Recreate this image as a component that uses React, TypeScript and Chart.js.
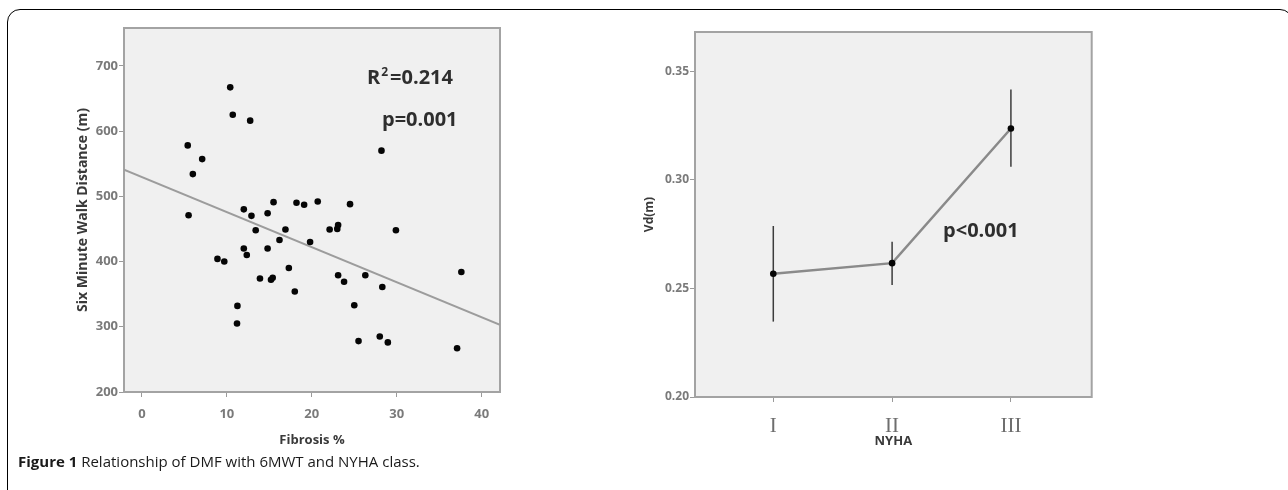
import React, { useEffect, useRef } from "react";
import { Chart, registerables } from "chart.js";

Chart.register(...registerables);

// ---------- Left panel: Fibrosis % vs Six Minute Walk Distance ----------
const fibrosisPct = [
  10.4, 10.7, 12.75, 5.4, 7.1, 6.0, 5.5, 28.2, 12.0, 12.9, 13.4, 14.8, 15.5, 16.9,
  16.2, 18.2, 19.1, 20.7, 19.8, 14.8, 12.0, 12.35, 8.9, 9.7, 13.9, 15.2, 15.4, 17.3,
  18.0, 11.25, 11.2, 22.1, 23.0, 23.1, 24.5, 23.1, 23.8, 26.3, 28.3, 29.9, 25.0, 25.5,
  28.0, 28.95, 37.1, 37.6,
];
const walkDistance = [
  667, 625, 616, 578, 557, 534, 471, 570, 480, 470, 448, 474, 491, 449,
  433, 490, 487, 492, 430, 420, 420, 410, 404, 400, 374, 372, 375, 390,
  354, 332, 305, 449, 450, 456, 488, 379, 369, 379, 361, 448, 333, 278,
  285, 276, 267, 384,
];
const fitLineX = [-2.1, 42.15];
const fitLineY = [541, 303];
const fibrosisTicks = [0, 10, 20, 30, 40];
const walkTicks = [200, 300, 400, 500, 600, 700];

// ---------- Right panel: NYHA class vs Vd(m) ----------
const nyhaClass = [1, 2, 3];
const nyhaLabels = ["I", "II", "III"];
const vdMean = [0.2567, 0.2616, 0.3236];
const vdLow = [0.2347, 0.2516, 0.306];
const vdHigh = [0.2787, 0.2715, 0.3415];
const vdTicks = [0.2, 0.25, 0.3, 0.35];

const SANS = '"Open Sans", "DejaVu Sans", sans-serif';
const TICK_COLOR = "#7a7a7a";
const TITLE_COLOR = "#3a3a3a";

const plotBox = {
  id: "plotBox",
  beforeDatasetsDraw(chart: any) {
    const { ctx, chartArea: a } = chart;
    ctx.save();
    ctx.fillStyle = "#f0f0f0";
    ctx.fillRect(a.left, a.top, a.right - a.left, a.bottom - a.top);
    ctx.strokeStyle = "#a3a3a3";
    ctx.lineWidth = 2;
    ctx.strokeRect(a.left, a.top, a.right - a.left, a.bottom - a.top);
    ctx.restore();
  },
};

function makeTextPlugin(items: { x: number; y: number; parts: { t: string; sup?: boolean }[] }[]) {
  return {
    id: "notes",
    afterDatasetsDraw(chart: any) {
      const { ctx, scales } = chart;
      ctx.save();
      ctx.fillStyle = "#2e2e2e";
      ctx.textBaseline = "middle";
      ctx.textAlign = "left";
      for (const it of items) {
        let px = scales.x.getPixelForValue(it.x);
        const py = scales.y.getPixelForValue(it.y);
        for (const p of it.parts) {
          if (p.sup) {
            ctx.font = `bold 12px ${SANS}`;
            ctx.fillText(p.t, px + 1, py - 6);
            px += ctx.measureText(p.t).width + 3;
          } else {
            ctx.font = `bold 20px ${SANS}`;
            ctx.fillText(p.t, px, py);
            px += ctx.measureText(p.t).width;
          }
        }
      }
      ctx.restore();
    },
  };
}

const errorBars = {
  id: "errorBars",
  beforeDatasetsDraw(chart: any) {
    const { ctx, scales } = chart;
    ctx.save();
    ctx.strokeStyle = "#3c3c3c";
    ctx.lineWidth = 1.5;
    nyhaClass.forEach((c, i) => {
      const x = scales.x.getPixelForValue(c);
      ctx.beginPath();
      ctx.moveTo(x, scales.y.getPixelForValue(vdLow[i]));
      ctx.lineTo(x, scales.y.getPixelForValue(vdHigh[i]));
      ctx.stroke();
    });
    ctx.restore();
  },
};

function LeftChart() {
  const ref = useRef<HTMLCanvasElement | null>(null);
  useEffect(() => {
    const chart = new Chart(ref.current as HTMLCanvasElement, {
      type: "scatter",
      data: {
        datasets: [
          {
            data: fitLineX.map((x, i) => ({ x, y: fitLineY[i] })),
            showLine: true,
            borderColor: "#9c9c9c",
            borderWidth: 2,
            pointRadius: 0,
            order: 2,
          } as any,
          {
            data: fibrosisPct.map((x, i) => ({ x, y: walkDistance[i] })),
            backgroundColor: "#050505",
            borderColor: "#050505",
            borderWidth: 0,
            pointRadius: 3.3,
            order: 1,
          },
        ],
      },
      options: {
        animation: false,
        responsive: false,
        events: [],
        layout: { padding: { left: 0, top: 28, right: 20, bottom: 0 } },
        plugins: { legend: { display: false }, tooltip: { enabled: false } },
        scales: {
          x: {
            type: "linear",
            min: -2.1,
            max: 42.15,
            afterBuildTicks: (s: any) => {
              s.ticks = fibrosisTicks.map((v) => ({ value: v }));
            },
            afterFit: (s: any) => {
              s.height = 68;
            },
            grid: { drawOnChartArea: false, drawTicks: true, tickLength: 5, color: "#9a9a9a" },
            border: { display: false },
            ticks: {
              padding: 9,
              maxRotation: 0,
              autoSkip: false,
              color: TICK_COLOR,
              font: { family: SANS, size: 13, weight: "bold" },
            },
            title: {
              display: true,
              text: "Fibrosis %",
              color: TITLE_COLOR,
              font: { family: SANS, size: 13, weight: "bold" },
              padding: { top: 0, bottom: 12.2 },
            },
          },
          y: {
            type: "linear",
            min: 200,
            max: 758,
            afterBuildTicks: (s: any) => {
              s.ticks = walkTicks.map((v) => ({ value: v }));
            },
            afterFit: (s: any) => {
              s.width = 124;
            },
            grid: { drawOnChartArea: false, drawTicks: true, tickLength: 5, color: "#9a9a9a" },
            border: { display: false },
            ticks: {
              padding: 1,
              color: TICK_COLOR,
              font: { family: SANS, size: 13, weight: "bold" },
            },
            title: {
              display: true,
              text: "Six Minute Walk Distance (m)",
              color: TITLE_COLOR,
              font: { family: SANS, size: 14, weight: "bold" },
              padding: { top: 74.6, bottom: 0 },
            },
          },
        },
      } as any,
      plugins: [
        plotBox,
        makeTextPlugin([
          { x: 26.5, y: 681, parts: [{ t: "R" }, { t: "2", sup: true }, { t: "=0.214" }] },
          { x: 28.26, y: 617, parts: [{ t: "p=0.001" }] },
        ]),
      ],
    });
    return () => chart.destroy();
  }, []);
  return (
    <canvas
      ref={ref}
      width={520}
      height={460}
      style={{ position: "absolute", left: 0, top: 0, width: 520, height: 460 }}
    />
  );
}

function RightChart() {
  const ref = useRef<HTMLCanvasElement | null>(null);
  useEffect(() => {
    const chart = new Chart(ref.current as HTMLCanvasElement, {
      type: "scatter",
      data: {
        datasets: [
          {
            data: nyhaClass.map((x, i) => ({ x, y: vdMean[i] })),
            showLine: true,
            borderColor: "#8a8a8a",
            borderWidth: 2.5,
            backgroundColor: "#050505",
            pointBorderColor: "#050505",
            pointBorderWidth: 0,
            pointRadius: 3.3,
          } as any,
        ],
      },
      options: {
        animation: false,
        responsive: false,
        events: [],
        layout: { padding: { left: 0, top: 32, right: 196.3, bottom: 0 } },
        plugins: { legend: { display: false }, tooltip: { enabled: false } },
        scales: {
          x: {
            type: "linear",
            min: 0.341,
            max: 3.68,
            afterBuildTicks: (s: any) => {
              s.ticks = nyhaClass.map((v) => ({ value: v }));
            },
            afterFit: (s: any) => {
              s.height = 63;
            },
            grid: { drawOnChartArea: false, drawTicks: true, tickLength: 5, color: "#9a9a9a" },
            border: { display: false },
            ticks: {
              padding: 12,
              maxRotation: 0,
              autoSkip: false,
              color: "#6e6e6e",
              font: { family: '"Liberation Serif", "DejaVu Serif", serif', size: 21 },
              callback: (v: any) => nyhaLabels[nyhaClass.indexOf(Number(v))] ?? "",
            },
            title: {
              display: true,
              text: "NYHA",
              color: TITLE_COLOR,
              font: { family: SANS, size: 13, weight: "bold" },
              padding: { top: 0, bottom: 11 },
            },
          },
          y: {
            type: "linear",
            min: 0.2,
            max: 0.368,
            afterBuildTicks: (s: any) => {
              s.ticks = vdTicks.map((v) => ({ value: v }));
            },
            afterFit: (s: any) => {
              s.width = 55;
            },
            grid: { drawOnChartArea: false, drawTicks: true, tickLength: 5, color: "#9a9a9a" },
            border: { display: false },
            ticks: {
              padding: 1,
              color: TICK_COLOR,
              font: { family: SANS, size: 12, weight: "bold" },
              callback: (v: any) => Number(v).toFixed(2),
            },
            title: {
              display: true,
              text: "Vd(m)",
              color: TITLE_COLOR,
              font: { family: SANS, size: 12, weight: "bold" },
              padding: { top: 2.8, bottom: 0 },
            },
          },
        },
      } as any,
      plugins: [
        plotBox,
        errorBars,
        makeTextPlugin([{ x: 2.429, y: 0.2762, parts: [{ t: "p<0.001" }] }]),
      ],
    });
    return () => chart.destroy();
  }, []);
  return (
    <canvas
      ref={ref}
      width={648}
      height={460}
      style={{ position: "absolute", left: 640, top: 0, width: 648, height: 460 }}
    />
  );
}

export default function App() {
  return (
    <div
      style={{
        position: "absolute",
        left: 0,
        top: 0,
        width: 1288,
        height: 490,
        overflow: "hidden",
        background: "#ffffff",
      }}
    >
      <div
        style={{
          position: "absolute",
          left: 7,
          top: 9,
          width: 1286,
          height: 600,
          border: "1px solid #000",
          borderRadius: 13,
          boxSizing: "border-box",
        }}
      />
      <LeftChart />
      <RightChart />
      <div
        style={{
          position: "absolute",
          left: 18,
          top: 451,
          fontFamily: SANS,
          fontSize: 15,
          lineHeight: "20px",
          color: "#1a1a1a",
          whiteSpace: "nowrap",
        }}
      >
        <span style={{ fontWeight: "bold" }}>Figure 1</span> Relationship of DMF with 6MWT and NYHA class.
      </div>
    </div>
  );
}
